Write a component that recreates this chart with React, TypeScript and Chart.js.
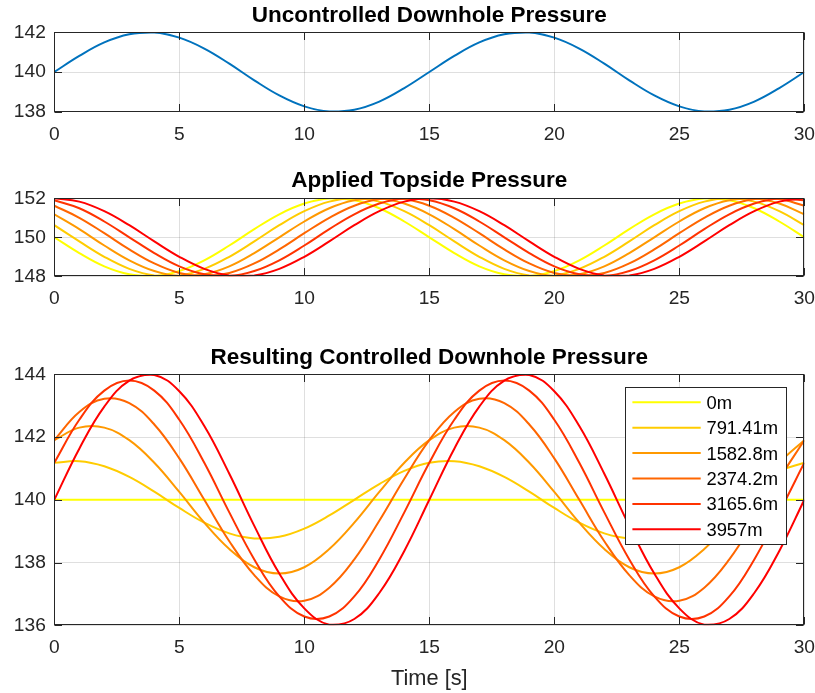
import React, { useEffect, useRef } from "react";
import { Chart, registerables } from "chart.js";

Chart.register(...registerables);

const FONT = '"Liberation Sans", Arial, Helvetica, sans-serif';

// ---------- data ----------
const TIME = [0, 1, 2, 3, 4, 5, 6, 7, 8, 9, 10, 11, 12, 13, 14, 15, 16, 17, 18, 19, 20, 21, 22, 23, 24, 25, 26, 27, 28, 29, 30];
const X_TICKS = [0, 5, 10, 15, 20, 25, 30];
const Y_TICKS_DOWNHOLE = [138, 140, 142];
const Y_TICKS_TOPSIDE = [148, 150, 152];
const Y_TICKS_RESULT = [136, 138, 140, 142, 144];

const TITLE_DOWNHOLE = "Uncontrolled Downhole Pressure";
const TITLE_TOPSIDE = "Applied Topside Pressure";
const TITLE_RESULT = "Resulting Controlled Downhole Pressure";
const X_LABEL = "Time [s]";

const DEPTH_LABELS = ["0m", "791.41m", "1582.8m", "2374.2m", "3165.6m", "3957m"];
const DEPTH_COLORS = ["#FFFF00", "#FFCC00", "#FF9900", "#FF6600", "#FF3300", "#FF0000"];
const DOWNHOLE_COLOR = "#0072BD";

const DOWNHOLE = [140.0, 140.81, 141.49, 141.9, 141.99, 141.73, 141.18, 140.42, 139.58, 138.82, 138.27, 138.01, 138.1, 138.51, 139.19, 140.0, 140.81, 141.49, 141.9, 141.99, 141.73, 141.18, 140.42, 139.58, 138.82, 138.27, 138.01, 138.1, 138.51, 139.19, 140.0];

const TOPSIDE_0 = [150.0, 149.19, 148.51, 148.1, 148.01, 148.27, 148.82, 149.58, 150.42, 151.18, 151.73, 151.99, 151.9, 151.49, 150.81, 150.0, 149.19, 148.51, 148.1, 148.01, 148.27, 148.82, 149.58, 150.42, 151.18, 151.73, 151.99, 151.9, 151.49, 150.81, 150.0];
const TOPSIDE_791 = [150.62, 149.79, 149.0, 148.38, 148.04, 148.04, 148.38, 149.0, 149.79, 150.62, 151.34, 151.83, 152.0, 151.83, 151.34, 150.62, 149.79, 149.0, 148.38, 148.04, 148.04, 148.38, 149.0, 149.79, 150.62, 151.34, 151.83, 152.0, 151.83, 151.34, 150.62];
const TOPSIDE_1583 = [151.18, 150.42, 149.58, 148.82, 148.27, 148.01, 148.1, 148.51, 149.19, 150.0, 150.81, 151.49, 151.9, 151.99, 151.73, 151.18, 150.42, 149.58, 148.82, 148.27, 148.01, 148.1, 148.51, 149.19, 150.0, 150.81, 151.49, 151.9, 151.99, 151.73, 151.18];
const TOPSIDE_2374 = [151.62, 151.0, 150.21, 149.38, 148.66, 148.17, 148.0, 148.17, 148.66, 149.38, 150.21, 151.0, 151.62, 151.96, 151.96, 151.62, 151.0, 150.21, 149.38, 148.66, 148.17, 148.0, 148.17, 148.66, 149.38, 150.21, 151.0, 151.62, 151.96, 151.96, 151.62];
const TOPSIDE_3166 = [151.9, 151.49, 150.81, 150.0, 149.19, 148.51, 148.1, 148.01, 148.27, 148.82, 149.58, 150.42, 151.18, 151.73, 151.99, 151.9, 151.49, 150.81, 150.0, 149.19, 148.51, 148.1, 148.01, 148.27, 148.82, 149.58, 150.42, 151.18, 151.73, 151.99, 151.9];
const TOPSIDE_3957 = [152.0, 151.83, 151.34, 150.62, 149.79, 149.0, 148.38, 148.04, 148.04, 148.38, 149.0, 149.79, 150.62, 151.34, 151.83, 152.0, 151.83, 151.34, 150.62, 149.79, 149.0, 148.38, 148.04, 148.04, 148.38, 149.0, 149.79, 150.62, 151.34, 151.83, 152.0];

const RESULT_0 = [140, 140, 140, 140, 140, 140, 140, 140, 140, 140, 140, 140, 140, 140, 140, 140, 140, 140, 140, 140, 140, 140, 140, 140, 140, 140, 140, 140, 140, 140, 140];
const RESULT_791 = [141.18, 141.23, 141.07, 140.73, 140.26, 139.74, 139.27, 138.93, 138.77, 138.82, 139.08, 139.5, 140.0, 140.5, 140.92, 141.18, 141.23, 141.07, 140.73, 140.26, 139.74, 139.27, 138.93, 138.77, 138.82, 139.08, 139.5, 140.0, 140.5, 140.92, 141.18];
const RESULT_1583 = [141.9, 142.3, 142.3, 141.9, 141.18, 140.25, 139.27, 138.43, 137.85, 137.65, 137.85, 138.43, 139.27, 140.25, 141.18, 141.9, 142.3, 142.3, 141.9, 141.18, 140.25, 139.27, 138.43, 137.85, 137.65, 137.85, 138.43, 139.27, 140.25, 141.18, 141.9];
const RESULT_2374 = [141.9, 142.8, 143.22, 143.08, 142.4, 141.32, 140.0, 138.68, 137.6, 136.92, 136.78, 137.2, 138.1, 139.33, 140.67, 141.9, 142.8, 143.22, 143.08, 142.4, 141.32, 140.0, 138.68, 137.6, 136.92, 136.78, 137.2, 138.1, 139.33, 140.67, 141.9];
const RESULT_3166 = [141.18, 142.55, 143.48, 143.8, 143.48, 142.55, 141.18, 139.6, 138.1, 136.92, 136.28, 136.28, 136.92, 138.1, 139.6, 141.18, 142.55, 143.48, 143.8, 143.48, 142.55, 141.18, 139.6, 138.1, 136.92, 136.28, 136.28, 136.92, 138.1, 139.6, 141.18];
const RESULT_3957 = [140.0, 141.63, 142.97, 143.8, 143.98, 143.46, 142.35, 140.83, 139.17, 137.65, 136.54, 136.02, 136.2, 137.03, 138.37, 140.0, 141.63, 142.97, 143.8, 143.98, 143.46, 142.35, 140.83, 139.17, 137.65, 136.54, 136.02, 136.2, 137.03, 138.37, 140.0];

const TOPSIDE_SERIES = [TOPSIDE_0, TOPSIDE_791, TOPSIDE_1583, TOPSIDE_2374, TOPSIDE_3166, TOPSIDE_3957];
const RESULT_SERIES = [RESULT_0, RESULT_791, RESULT_1583, RESULT_2374, RESULT_3166, RESULT_3957];

// ---------- helpers ----------
const AXIS_COLOR = "#262626";
const GRID_COLOR = "rgba(38,38,38,0.15)";

function toPoints(values: number[]) {
  return TIME.map((t, i) => ({ x: t, y: values[i] }));
}

const boxPlugin = {
  id: "matlabBox",
  afterDatasetsDraw(chart: any) {
    const { ctx, chartArea: a, scales } = chart;
    const xs = scales.x;
    const ys = scales.y;
    const L = Math.round(a.left) + 0.5;
    const R = Math.round(a.right) - 0.5;
    const T = Math.round(a.top) + 0.5;
    const B = Math.round(a.bottom) - 0.5;
    const tl = 7.5;
    ctx.save();
    ctx.strokeStyle = AXIS_COLOR;
    ctx.lineWidth = 1;
    ctx.beginPath();
    xs.ticks.forEach((t: any) => {
      const px = Math.round(xs.getPixelForValue(t.value)) + 0.5;
      ctx.moveTo(px, B);
      ctx.lineTo(px, B - tl);
      ctx.moveTo(px, T);
      ctx.lineTo(px, T + tl);
    });
    ys.ticks.forEach((t: any) => {
      const py = Math.round(ys.getPixelForValue(t.value)) + 0.5;
      ctx.moveTo(L, py);
      ctx.lineTo(L + tl, py);
      ctx.moveTo(R, py);
      ctx.lineTo(R - tl, py);
    });
    ctx.stroke();
    ctx.strokeRect(L, T, R - L, B - T);
    ctx.restore();
  },
};

const legendPlugin = {
  id: "boxLegend",
  afterDraw(chart: any) {
    const { ctx, chartArea: a } = chart;
    const w = 161;
    const h = 157;
    const left = Math.round(a.right - 18.6 - w);
    const top = Math.round(a.top + 12.7);
    ctx.save();
    ctx.fillStyle = "#ffffff";
    ctx.fillRect(left, top, w, h);
    ctx.strokeStyle = AXIS_COLOR;
    ctx.lineWidth = 1;
    ctx.strokeRect(left + 0.5, top + 0.5, w, h);
    ctx.font = `18.4px ${FONT}`;
    ctx.textBaseline = "middle";
    ctx.textAlign = "left";
    chart.data.datasets.forEach((ds: any, i: number) => {
      const cy = top + 15.3 + i * 25.4;
      ctx.strokeStyle = ds.borderColor;
      ctx.lineWidth = 2;
      ctx.beginPath();
      ctx.moveTo(left + 7.4, cy);
      ctx.lineTo(left + 75.7, cy);
      ctx.stroke();
      ctx.fillStyle = "#000000";
      ctx.fillText(ds.label, left + 81.4, cy + 1.5);
    });
    ctx.restore();
  },
};

type PanelOpts = {
  datasets: any[];
  yMin: number;
  yMax: number;
  yTicks: number[];
  title: string;
  padTop: number;
  titlePadBottom: number;
  xHeight: number;
  xTitle?: string;
  legend?: boolean;
};

function makeChart(canvas: HTMLCanvasElement, p: PanelOpts) {
  const tickFont = { family: FONT, size: 19.2 };
  return new Chart(canvas, {
    type: "line",
    data: { datasets: p.datasets },
    options: {
      animation: false,
      responsive: false,
      layout: { padding: { left: 0, right: 10.7, top: p.padTop, bottom: 0 } },
      plugins: {
        legend: { display: false },
        tooltip: { enabled: false },
        title: {
          display: true,
          text: p.title,
          fullSize: false,
          color: "#000000",
          font: { family: FONT, size: 22.5, weight: "bold", lineHeight: 1.2 },
          padding: { top: 0, bottom: p.titlePadBottom },
        },
      },
      elements: { point: { radius: 0 }, line: { tension: 0.4, borderWidth: 2 } },
      scales: {
        x: {
          type: "linear",
          position: "bottom",
          min: 0,
          max: 30,
          border: { display: false },
          grid: { color: GRID_COLOR, lineWidth: 1, drawTicks: false },
          ticks: { color: AXIS_COLOR, font: tickFont, padding: 11, maxRotation: 0, autoSkip: false },
          title: p.xTitle
            ? {
                display: true,
                text: p.xTitle,
                color: AXIS_COLOR,
                font: { family: FONT, size: 21.8, lineHeight: 1.2 },
                padding: { top: 0, bottom: 1.4 },
              }
            : { display: false },
          afterBuildTicks: (s: any) => {
            s.ticks = X_TICKS.map((v) => ({ value: v }));
          },
          afterFit: (s: any) => {
            s.height = p.xHeight;
            s.paddingLeft = 0;
            s.paddingRight = 0;
          },
        },
        y: {
          type: "linear",
          position: "left",
          min: p.yMin,
          max: p.yMax,
          border: { display: false },
          grid: { color: GRID_COLOR, lineWidth: 1, drawTicks: false },
          ticks: { color: AXIS_COLOR, font: tickFont, padding: 8.5, autoSkip: false },
          afterBuildTicks: (s: any) => {
            s.ticks = p.yTicks.map((v) => ({ value: v }));
          },
          afterFit: (s: any) => {
            s.width = 54.3;
            s.paddingTop = 0;
            s.paddingBottom = 0;
          },
        },
      },
    } as any,
    plugins: p.legend ? [boxPlugin, legendPlugin] : [boxPlugin],
  });
}

function depthDatasets(series: number[][]) {
  return series.map((values, i) => ({
    label: DEPTH_LABELS[i],
    data: toPoints(values),
    borderColor: DEPTH_COLORS[i],
    backgroundColor: DEPTH_COLORS[i],
    borderWidth: 2,
    pointRadius: 0,
    fill: false,
    tension: 0.4,
    order: series.length - i,
  }));
}

export default function App() {
  const c1 = useRef<HTMLCanvasElement>(null);
  const c2 = useRef<HTMLCanvasElement>(null);
  const c3 = useRef<HTMLCanvasElement>(null);

  useEffect(() => {
    const charts = [
      makeChart(c1.current!, {
        datasets: [
          {
            label: "Downhole",
            data: toPoints(DOWNHOLE),
            borderColor: DOWNHOLE_COLOR,
            backgroundColor: DOWNHOLE_COLOR,
            borderWidth: 2,
            pointRadius: 0,
            fill: false,
            tension: 0.4,
          },
        ],
        yMin: 138,
        yMax: 142,
        yTicks: Y_TICKS_DOWNHOLE,
        title: TITLE_DOWNHOLE,
        padTop: 2.4,
        titlePadBottom: 2.9,
        xHeight: 48.3,
      }),
      makeChart(c2.current!, {
        datasets: depthDatasets(TOPSIDE_SERIES),
        yMin: 148,
        yMax: 152,
        yTicks: Y_TICKS_TOPSIDE,
        title: TITLE_TOPSIDE,
        padTop: 7.4,
        titlePadBottom: 3.9,
        xHeight: 53.7,
      }),
      makeChart(c3.current!, {
        datasets: depthDatasets(RESULT_SERIES),
        yMin: 136,
        yMax: 144,
        yTicks: Y_TICKS_RESULT,
        title: TITLE_RESULT,
        padTop: 14.1,
        titlePadBottom: 3.2,
        xHeight: 67.7,
        xTitle: X_LABEL,
        legend: true,
      }),
    ];
    return () => charts.forEach((c) => c.destroy());
  }, []);

  return (
    <div style={{ position: "absolute", left: 0, top: 0, width: 815, height: 693, background: "#ffffff" }}>
      <canvas ref={c1} width={815} height={160} style={{ position: "absolute", left: 0, top: 0 }} />
      <canvas ref={c2} width={815} height={170} style={{ position: "absolute", left: 0, top: 160 }} />
      <canvas ref={c3} width={815} height={363} style={{ position: "absolute", left: 0, top: 330 }} />
    </div>
  );
}
